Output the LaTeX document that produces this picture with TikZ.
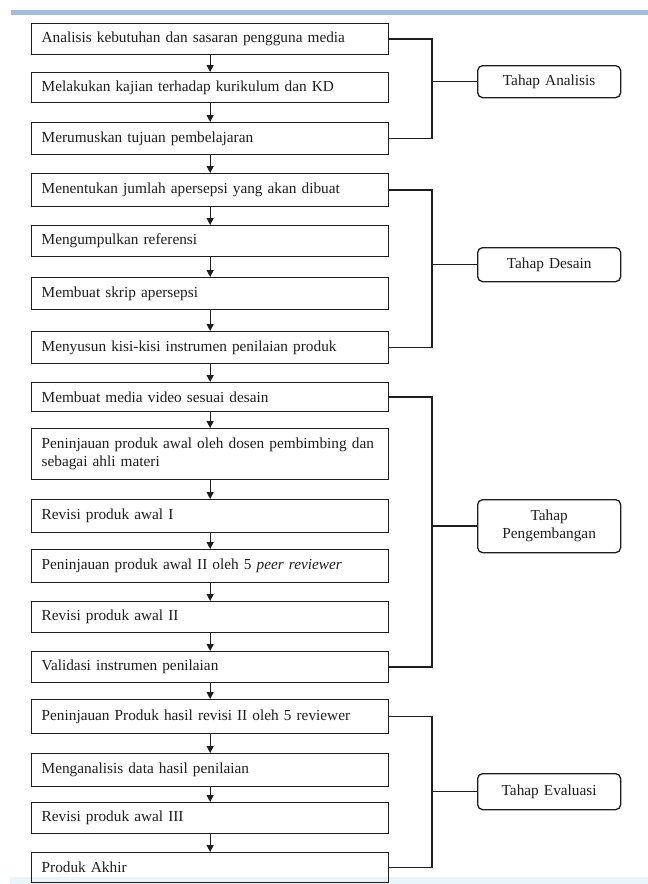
\documentclass[tikz,border=0pt]{standalone}
\usepackage{fontspec}
\setmainfont{Liberation Serif}
\usetikzlibrary{arrows.meta}
\definecolor{bandblue}{HTML}{A3BCD9}
\definecolor{bandcyan}{HTML}{EAF5F9}
\definecolor{ink}{HTML}{1E1E1E}
\tikzset{
  stepbox/.style={draw=ink, line width=1.3pt, anchor=north west, minimum width=357pt,
    text width=337pt, inner xsep=10pt, inner ysep=2pt, align=left, text=ink,
    font=\fontsize{15.3pt}{18pt}\selectfont},
  phase/.style={draw=ink, line width=1.3pt, rounded corners=5pt, anchor=north west,
    minimum width=143pt, text width=135pt, align=center, inner sep=2pt, text=ink,
    font=\fontsize{15.3pt}{18pt}\selectfont},
  flow/.style={draw=ink, line width=1.3pt, -{Triangle[length=7pt,width=7pt]}},
  link/.style={draw=ink, line width=1.4pt}
}
\begin{document}
\begin{tikzpicture}[x=1pt,y=-1pt]
\useasboundingbox (0,0) rectangle (648,884);
\fill[white] (0,0) rectangle (648,884);
\fill[bandblue] (11,10) rectangle (648,15);
\fill[bandcyan] (10,877) rectangle (648,884);
\coordinate (xb) at (432,0);
% steps
\node[stepbox, minimum height=31pt] (b1) at (31,23) {Analisis kebutuhan dan sasaran pengguna media};
\node[stepbox, minimum height=30pt] (b2) at (31,72) {Melakukan kajian terhadap kurikulum dan KD};
\node[stepbox, minimum height=32pt] (b3) at (31,122) {Merumuskan tujuan pembelajaran};
\node[stepbox, minimum height=33pt] (b4) at (31,173) {Menentukan jumlah apersepsi yang akan dibuat};
\node[stepbox, minimum height=31pt] (b5) at (31,225) {Mengumpulkan referensi};
\node[stepbox, minimum height=32pt] (b6) at (31,277) {Membuat skrip apersepsi};
\node[stepbox, minimum height=32pt] (b7) at (31,331) {Menyusun kisi-kisi instrumen penilaian produk};
\node[stepbox, minimum height=29pt] (b8) at (31,382) {Membuat media video sesuai desain};
\node[stepbox, minimum height=51pt] (b9) at (31,428) {\mbox{Peninjauan produk awal oleh dosen pembimbing dan}\\sebagai ahli materi};
\node[stepbox, minimum height=33pt] (b10) at (31,499) {Revisi produk awal I};
\node[stepbox, minimum height=33pt] (b11) at (31,549) {Peninjauan produk awal II oleh 5 \textit{peer reviewer}};
\node[stepbox, minimum height=31pt] (b12) at (31,601) {Revisi produk awal II};
\node[stepbox, minimum height=31pt] (b13) at (31,651) {Validasi instrumen penilaian};
\node[stepbox, minimum height=34pt] (b14) at (31,699) {Peninjauan Produk hasil revisi II oleh 5 reviewer};
\node[stepbox, minimum height=33pt] (b15) at (31,753) {Menganalisis data hasil penilaian};
\node[stepbox, minimum height=31pt] (b16) at (31,802) {Revisi produk awal III};
\node[stepbox, minimum height=30pt] (b17) at (31,852) {Produk Akhir};
% arrows
\foreach \a/\b in {b1/b2,b2/b3,b3/b4,b4/b5,b5/b6,b6/b7,b7/b8,b8/b9,b9/b10,b10/b11,b11/b12,b12/b13,b13/b14,b14/b15,b15/b16,b16/b17}
  \draw[flow] (\a.south) -- (\b.north);
% phases
\node[phase, minimum height=32pt] (pa) at (477,65) {Tahap Analisis};
\node[phase, minimum height=34pt] (pd) at (477,247) {Tahap Desain};
\node[phase, minimum height=53pt] (pp) at (477,499) {Tahap\\Pengembangan};
\node[phase, minimum height=36pt] (pe) at (477,773) {Tahap Evaluasi};
% brackets
\draw[link] (b1.east) -- (b1.east -| xb) -- (b3.east -| xb) -- (b3.east);
\draw[link] (pa.west -| xb) -- (pa.west);
\draw[link] (b4.east) -- (b4.east -| xb) -- (b7.east -| xb) -- (b7.east);
\draw[link] (pd.west -| xb) -- (pd.west);
\draw[link] (b8.east) -- (b8.east -| xb) -- (b13.east -| xb) -- (b13.east);
\draw[link] (pp.west -| xb) -- (pp.west);
\draw[link] (b14.east) -- (b14.east -| xb) -- (b17.east -| xb) -- (b17.east);
\draw[link] (pe.west -| xb) -- (pe.west);
\end{tikzpicture}
\end{document}
